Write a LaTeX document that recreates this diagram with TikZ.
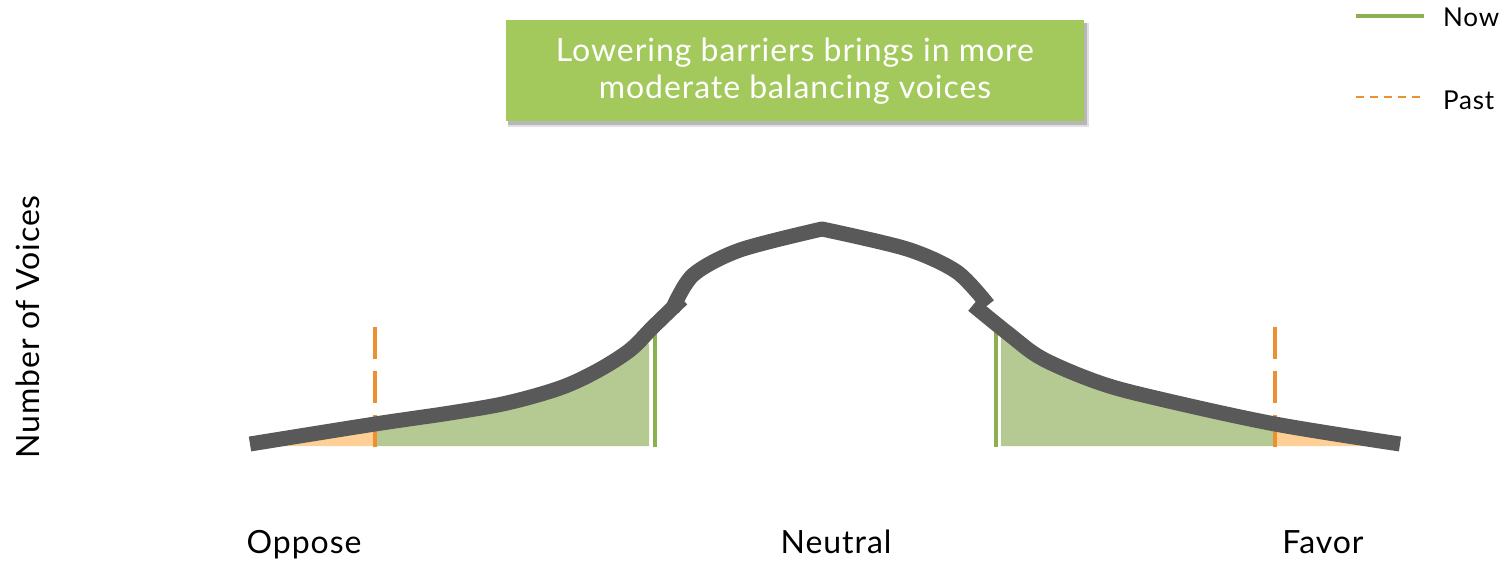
\documentclass[tikz,border=0pt]{standalone}
\usepackage{fontspec}
\setmainfont{Lato}[LetterSpace=3]
\definecolor{boxgreen}{HTML}{A3C95D}
\definecolor{linegreen}{HTML}{8CAF50}
\definecolor{fillgreen}{HTML}{B5CA92}
\definecolor{pastorange}{HTML}{ED8F33}
\definecolor{fillorange}{HTML}{FFD095}
\definecolor{curvegray}{HTML}{595959}
\tikzset{
  curveline/.style={draw=curvegray, line width=15pt, line cap=butt, line join=miter},
  nowline/.style={draw=linegreen, line width=3.5pt},
  pastline/.style={draw=pastorange, line width=4pt, dash pattern=on 32pt off 12pt},
  lbl/.style={font=\fontsize{32}{38}\selectfont, text=black, inner sep=0pt},
  boxtext/.style={font=\fontsize{32}{37}\selectfont, text=white, align=center, inner sep=0pt},
}
\begin{document}
\begin{tikzpicture}[x=1pt,y=-1pt]
\useasboundingbox (0,0) rectangle (1504,561);
\fill[white] (0,0) rectangle (1504,561);

% title box with shadow
\fill[black, opacity=0.12] (508,23) rectangle (1089,127);
\fill[black, opacity=0.18] (508,23) rectangle (1087,125);
\fill[boxgreen] (506,20) rectangle (1084,121);
\node[boxtext] (title) at (795,71) {Lowering barriers brings in more\\moderate balancing voices};

% legend
\coordinate (nowA) at (1356,16);
\coordinate (nowB) at (1424,16);
\draw[draw=linegreen, line width=4pt] (nowA) -- (nowB);
\node[lbl, anchor=base west, font=\fontsize{26}{32}\selectfont] (now) at (1443,27) {Now};
\coordinate (pastA) at (1356,97);
\coordinate (pastB) at (1422,97);
\draw[draw=pastorange, line width=2.5pt, dash pattern=on 8pt off 6pt] (pastA) -- (pastB);
\node[lbl, anchor=base west, font=\fontsize{26}{32}\selectfont] (past) at (1443,110) {Past};

% axis labels
\node[lbl, rotate=90] (ylab) at (28,327) {Number of Voices};
\node[lbl, anchor=base] (oppose) at (304,553) {Oppose};
\node[lbl, anchor=base] (neutral) at (836,553) {Neutral};
\node[lbl, anchor=base] (favor) at (1323,553) {Favor};

% fills
\begin{scope}
\clip (250,200) rectangle (375,446);
\fill[fillorange] plot[smooth, tension=0.55] coordinates {(250,444) (375,424) (450,413) (507,403) (560,388) (597,371) (630,350) (653,327) (672,305)} -- (672,446) -- (250,446) -- cycle;
\end{scope}
\begin{scope}
\clip (375,200) -- (625,200) -- (649,346) -- (649,447) -- (375,447) -- cycle;
\fill[fillgreen] plot[smooth, tension=0.55] coordinates {(250,444) (375,424) (450,413) (507,403) (560,388) (597,371) (630,350) (653,327) (672,305)} -- (672,446) -- (250,446) -- cycle;
\end{scope}
\begin{scope}
\clip (1001,200) rectangle (1275,447);
\fill[fillgreen] plot[smooth, tension=0.55] coordinates {(983,303) (1010,331) (1043,358) (1100,383) (1160,399) (1275,424) (1400,444)} -- (1400,446) -- (983,446) -- cycle;
\end{scope}
\begin{scope}
\clip (1275,200) rectangle (1400,446);
\fill[fillorange] plot[smooth, tension=0.55] coordinates {(983,303) (1010,331) (1043,358) (1100,383) (1160,399) (1275,424) (1400,444)} -- (1400,446) -- (983,446) -- cycle;
\end{scope}

% now lines
\coordinate (nowL1) at (655,332);
\coordinate (nowL2) at (655,447);
\draw[nowline] (nowL1) -- (nowL2);
\coordinate (nowR1) at (996,330);
\coordinate (nowR2) at (996,447);
\draw[nowline] (nowR1) -- (nowR2);

% past lines
\coordinate (pastL1) at (375,327);
\coordinate (pastL2) at (375,447);
\draw[pastline] (pastL1) -- (pastL2);
\coordinate (pastR1) at (1275,327);
\coordinate (pastR2) at (1275,447);
\draw[pastline] (pastR1) -- (pastR2);

% curve: left flank, top arc, right flank
\draw[curveline] plot[smooth, tension=0.55] coordinates {(250,444) (375,424) (450,413) (507,403) (560,388) (597,371) (630,350) (653,327) (682,299)};
\draw[curveline, line join=round] plot[smooth, tension=0.5] coordinates {(672,310) (693,275) (740,250) (822,229)} -- plot[smooth, tension=0.5] coordinates {(822,229) (907,249) (957,272) (988,305)};
\draw[curveline] plot[smooth, tension=0.55] coordinates {(973,305) (1010,335) (1043,359) (1100,383) (1160,399) (1275,424) (1400,444)};
\end{tikzpicture}
\end{document}
